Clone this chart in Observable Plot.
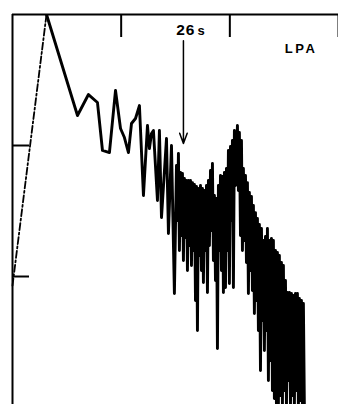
<!DOCTYPE html>
<html>
<head>
<meta charset="utf-8">
<script src="https://cdn.jsdelivr.net/npm/d3@7"></script>
<script src="https://cdn.jsdelivr.net/npm/@observablehq/plot@0.6"></script>
<style>
  html, body { margin: 0; padding: 0; background: #fff; }
  #chart svg { display: block; }
</style>
</head>
<body>
<div id="chart"></div>
<script>
// Spectrum trace (arbitrary units)
const specX = [
  3.13, 5.98, 6.99, 7.82, 8.28, 8.92, 9.48, 9.94, 10.30, 10.67, 10.95, 11.32, 11.68,
  12.05, 12.42, 12.60, 12.79, 12.97, 13.34, 13.52, 13.71, 14.17, 14.35, 14.63, 14.90,
  15.09, 15.18, 15.27, 15.36, 15.46, 15.55, 15.64, 15.73, 15.82, 15.92,
  16.01, 16.10, 16.19, 16.28, 16.38, 16.47, 16.56, 16.65, 16.74, 16.84,
  16.93, 17.02, 17.11, 17.20, 17.30, 17.39, 17.48, 17.57, 17.66, 17.76,
  17.85, 17.94, 18.03, 18.12, 18.22, 18.31, 18.40, 18.49, 18.58, 18.68,
  18.77, 18.86, 18.95, 19.04, 19.14, 19.23, 19.32, 19.41, 19.50, 19.60,
  19.69, 19.78, 19.87, 19.96, 20.06, 20.15, 20.24, 20.33, 20.42, 20.52,
  20.70, 20.79,
  20.88, 20.98, 21.07, 21.16, 21.25, 21.34, 21.44, 21.53, 21.62, 21.71,
  21.80, 21.90, 21.99, 22.08, 22.17, 22.26, 22.36, 22.45, 22.54, 22.63,
  22.72, 22.82, 22.91, 23.00, 23.09, 23.18, 23.28, 23.37, 23.46, 23.55,
  23.64, 23.74, 23.83, 23.92, 24.01, 24.10, 24.20, 24.29, 24.38, 24.47,
  24.56, 24.66, 24.75, 24.84, 24.93, 25.02, 25.12, 25.21, 25.30, 25.39,
  25.48, 25.58, 25.67, 25.76, 25.85, 25.94, 26.04, 26.13, 26.22, 26.31,
  26.40, 26.50, 26.59, 26.68, 26.77, 26.86
];
const specY = [
  30.00, 22.29, 23.89, 23.28, 19.62, 19.46, 24.20, 21.30, 20.61, 19.46, 21.68, 22.06, 23.05,
  16.18, 21.53, 19.77, 20.92, 21.14, 15.80, 21.14, 14.50, 20.53, 13.28, 20.00, 8.70,
  18.47, 14.27, 19.39, 11.98, 17.94, 13.13, 17.86, 11.22, 17.48, 12.98,
  17.33, 10.46, 17.33, 12.37, 17.33, 10.84, 17.17, 11.98, 17.02, 8.17,
  16.87, 5.88, 16.72, 11.60, 16.95, 10.46, 16.72, 9.54, 16.56, 11.98,
  16.95, 8.78, 17.33, 12.37, 18.09, 13.51, 18.63, 11.22, 16.18, 9.69,
  15.95, 4.50, 16.95, 11.98, 17.71, 10.46, 17.63, 8.78, 17.94, 9.16,
  18.24, 11.98, 19.62, 9.46, 19.92, 14.27, 20.38, 9.16, 21.14, 16.95,
  21.53, 16.56,
  20.99, 13.13, 20.38, 11.98, 18.24, 12.75, 17.71, 11.07, 17.17, 8.70,
  16.41, 10.46, 16.11, 8.93, 15.42, 7.17, 14.88, 8.17, 14.43, 5.88,
  13.97, 2.82, 13.66, 6.64, 12.75, 4.35, 13.05, 5.88, 13.66, 2.06,
  12.75, 3.59, 12.90, 1.30, 12.75, 0.69, 11.98, 0, 11.83, 0.30,
  11.60, 0.91, 11.07, 0, 10.84, 1.30, 9.69, 0, 8.78, 2.06,
  8.78, 0, 8.70, 0.91, 8.55, 0, 8.70, 1.30, 8.70, 0,
  8.32, 0.53, 8.17, 0, 7.94, 0
];
// Dash-dot extrapolation up to the first peak
const extraX = [0, 3.13];
const extraY = [9.3, 30.0];
// Tick positions
const xTicks = [10, 20, 30];
const yTicks = [10, 20];
// Annotations
const periodLabel = "26";
const periodUnit = "s";
const markerX = 15.73;
const markerTop = 28.0;
const markerBottom = 20.15;
const panelLabel = "LPA";

const spectrum = specX.map((x, i) => ({x, y: specY[i]}));
const extrapolation = extraX.map((x, i) => ({x, y: extraY[i]}));

const font = "'Liberation Sans', Arial, sans-serif";

const chart = Plot.plot({
  width: 338,
  height: 404,
  marginTop: 14,
  marginLeft: 12,
  marginRight: 0,
  marginBottom: 0,
  style: {background: "#fff", fontFamily: font},
  x: {domain: [0, 30]},
  y: {domain: [0.23, 30]},
  marks: [
    Plot.ruleY([30], {stroke: "#000", strokeWidth: 2}),
    Plot.ruleX([0], {stroke: "#000", strokeWidth: 2}),
    Plot.axisX({anchor: "top", ticks: xTicks, tickSize: -22, strokeWidth: 2, tickFormat: () => "", label: null}),
    Plot.axisY({anchor: "left", ticks: yTicks, tickSize: -17, strokeWidth: 2, tickFormat: () => "", label: null}),
    Plot.line(extrapolation, {x: "x", y: "y", stroke: "#000", strokeWidth: 1.8, strokeDasharray: "7,2.5,2,2.5"}),
    Plot.line(spectrum, {x: "x", y: "y", stroke: "#000", strokeWidth: 2.9, strokeLinejoin: "round", clip: true}),
    Plot.arrow([{x: markerX, y1: markerTop, y2: markerBottom}], {x1: "x", x2: "x", y1: "y1", y2: "y2", stroke: "#000", strokeWidth: 1.5, headLength: 11, headAngle: 40}),
    Plot.text([periodLabel], {x: 15.95, y: 28.45, text: d => d, fontSize: 15.5, fontWeight: "bold", lineAnchor: "bottom", textAnchor: "middle", fill: "#000", fontFamily: font}),
    Plot.text([periodUnit], {x: 17.35, y: 28.45, text: d => d, fontSize: 13, fontWeight: "bold", lineAnchor: "bottom", textAnchor: "middle", fill: "#000", fontFamily: font}),
    Plot.text([panelLabel], {x: 26.55, y: 27.05, text: d => d, fontSize: 13, fontWeight: "bold", lineAnchor: "bottom", textAnchor: "middle", fill: "#000", fontFamily: font})
  ]
});
document.getElementById("chart").appendChild(chart);
d3.select(chart).selectAll("text")
  .filter(function() { return this.textContent === panelLabel; })
  .style("letter-spacing", "2.5px");
d3.select(chart).selectAll("text")
  .filter(function() { return this.textContent === periodLabel; })
  .style("letter-spacing", "1px");
</script>
</body>
</html>
